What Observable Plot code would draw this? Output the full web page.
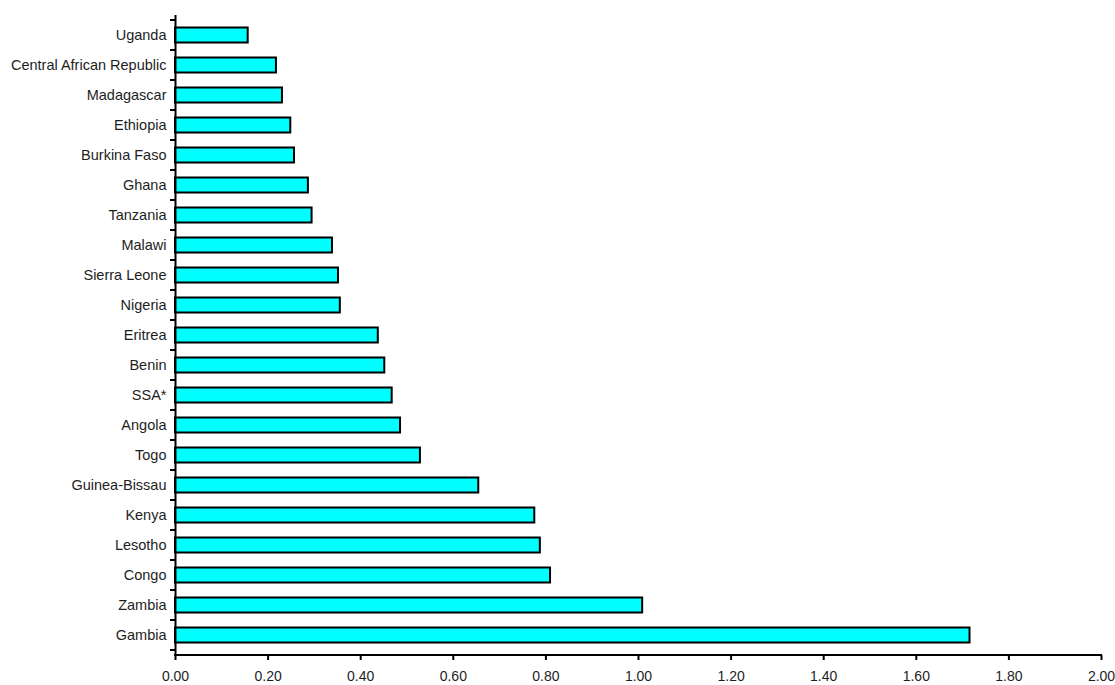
<!DOCTYPE html>
<html>
<head>
<meta charset="utf-8">
<script src="https://cdn.jsdelivr.net/npm/d3@7"></script>
<script src="https://cdn.jsdelivr.net/npm/@observablehq/plot@0.6"></script>
<style>
  html, body { margin: 0; padding: 0; background: #fff; }
  #chart svg { display: block; }
</style>
</head>
<body>
<div id="chart"></div>
<script>
const countries = ["Uganda","Central African Republic","Madagascar","Ethiopia","Burkina Faso","Ghana","Tanzania","Malawi","Sierra Leone","Nigeria","Eritrea","Benin","SSA*","Angola","Togo","Guinea-Bissau","Kenya","Lesotho","Congo","Zambia","Gambia"];
const values = [0.157,0.218,0.231,0.249,0.257,0.287,0.295,0.339,0.352,0.356,0.438,0.452,0.468,0.486,0.529,0.655,0.776,0.788,0.810,1.009,1.716];
const xTicks = [0,0.2,0.4,0.6,0.8,1.0,1.2,1.4,1.6,1.8,2.0];

const data = countries.map((c, i) => ({country: c, value: values[i]}));

const W = 1115, H = 685;
const mt = 15, mb = 30, ml = 175, mr = 14;

const plot = Plot.plot({
  width: W,
  height: H,
  marginTop: mt,
  marginBottom: mb,
  marginLeft: ml,
  marginRight: mr,
  style: {fontFamily: "'Liberation Sans', Arial, sans-serif", fontSize: "14px", color: "#1e1e1e", background: "#fff"},
  x: {domain: [0, 2], label: null},
  y: {domain: countries, padding: 0, label: null},
  marks: [
    Plot.barX(data, {x: "value", y: "country", fill: "#00FFFF", stroke: "#000", strokeWidth: 2, insetTop: 7.5, insetBottom: 7.5}),
    Plot.ruleX([0], {stroke: "#000", strokeWidth: 2}),
    Plot.axisX({ticks: xTicks, tickFormat: d3.format(".2f"), tickSize: 5, tickPadding: 11, stroke: "#000", strokeWidth: 2, label: null}),
    Plot.axisY({tickSize: 0, tickPadding: 9, label: null})
  ]
});

const svg = d3.select(plot);
svg.selectAll("g[aria-label='x-axis tick label']").attr("font-size", "14px");
svg.selectAll("g[aria-label='x-axis tick label'] text").attr("font-size", "14px");
svg.selectAll("g[aria-label='y-axis tick label']").attr("font-size", "14.5px");
svg.selectAll("g[aria-label='y-axis tick label'] text").attr("font-size", "14.5px");

// axis line along bottom and band-edge tick marks on the y axis, from the plot's scales
const xs = plot.scale("x");
const ys = plot.scale("y");
const g = svg.append("g").attr("stroke", "#000").attr("stroke-width", 2);
const yBottom = H - mb;
g.append("line").attr("x1", xs.apply(0) - 1).attr("x2", xs.apply(2) + 1).attr("y1", yBottom).attr("y2", yBottom);
const edges = countries.map(c => ys.apply(c)).concat([ys.apply(countries[countries.length - 1]) + ys.bandwidth]);
edges.forEach(e => {
  g.append("line").attr("x1", xs.apply(0) - 5).attr("x2", xs.apply(0)).attr("y1", e).attr("y2", e);
});

document.getElementById("chart").appendChild(plot);
</script>
</body>
</html>
